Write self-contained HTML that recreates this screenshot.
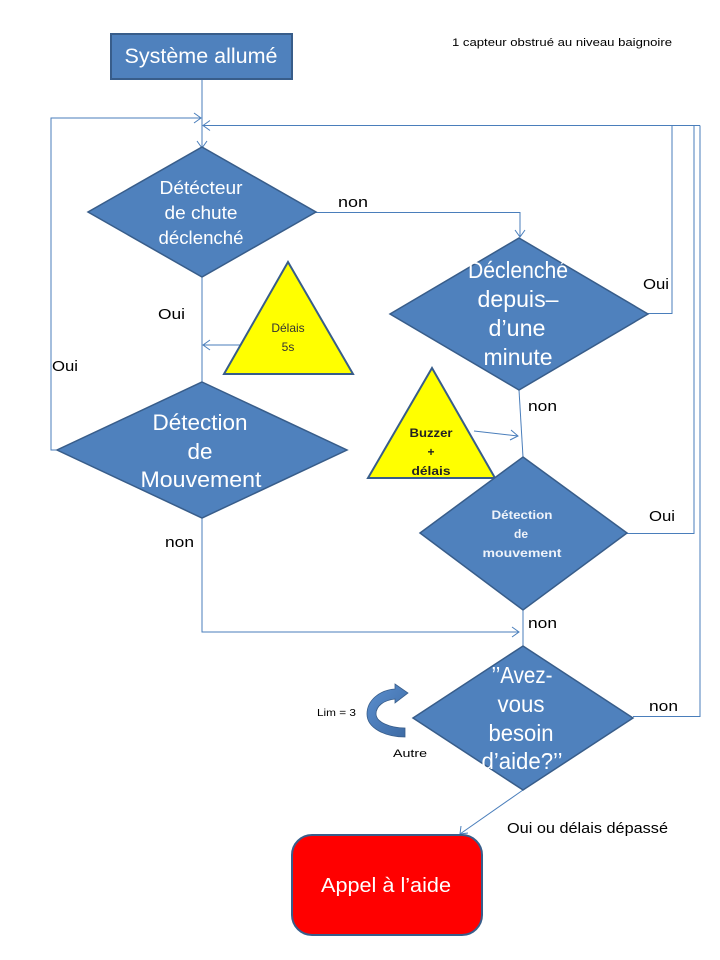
<!DOCTYPE html>
<html><head><meta charset="utf-8"><style>
html,body{margin:0;padding:0;background:#fff;}
svg{display:block;}
text{font-family:"Liberation Sans",sans-serif;}
</style></head><body>
<svg width="720" height="960" viewBox="0 0 720 960" xmlns="http://www.w3.org/2000/svg">
<defs>
<linearGradient id="cg" x1="0" y1="0" x2="1" y2="1">
<stop offset="0" stop-color="#5b8fcf"/><stop offset="1" stop-color="#3d6aa3"/>
</linearGradient>
</defs>
<g fill="none" stroke="#4a7ebb" stroke-width="1">
<!-- top start line -->
<line x1="202" y1="80" x2="202" y2="148"/>
<!-- left loop -->
<polyline points="57,450 51,450 51,118 201,118"/>
<polyline points="194,113 201,118 194,123"/>
<!-- right return top -->
<line x1="203" y1="125.5" x2="700" y2="125.5"/>
<polyline points="210,120.5 203,125.5 210,130.5"/>
<polyline points="197,141 202,148 207,141"/>
<!-- non from diamond 1 -->
<polyline points="316,212.5 520,212.5 520,237"/>
<polyline points="515,230 520,237 525,230"/>
<!-- Oui from diamond 2 -->
<polyline points="648,313.5 672,313.5 672,125.5"/>
<!-- Oui from diamond 3 -->
<polyline points="627,533.5 694,533.5 694,125.5"/>
<!-- non from diamond 4 -->
<polyline points="633,716.5 700,716.5 700,125.5"/>
<!-- left main vertical -->
<line x1="202" y1="277" x2="202" y2="382"/>
<line x1="240" y1="345" x2="203" y2="345"/>
<polyline points="210,340 203,345 210,350"/>
<!-- left non down and right -->
<polyline points="202,518 202,632 519,632"/>
<polyline points="512,627 519,632 512,637"/>
<!-- right column -->
<line x1="519" y1="390" x2="523" y2="457"/>
<line x1="474" y1="431" x2="518" y2="436"/>
<polyline points="511,430 518,436 510,440"/>
<line x1="523" y1="610" x2="523" y2="646"/>
<!-- to appel -->
<line x1="523" y1="790" x2="460" y2="834"/>
<polyline points="461,826 460,834 468,833"/>
</g>
<!-- start box -->
<rect x="111" y="34" width="181" height="45" fill="#4f81bd" stroke="#385d8a" stroke-width="2"/>
<text x="201" y="63" fill="#fff" font-size="21" text-anchor="middle" textLength="153" lengthAdjust="spacingAndGlyphs">Système allumé</text>
<text x="452" y="46" fill="#000" font-size="11" textLength="220" lengthAdjust="spacingAndGlyphs">1 capteur obstrué au niveau baignoire</text>
<!-- diamond 1 -->
<polygon points="202,147 316,212 202,277 88,212" fill="#4f81bd" stroke="#385d8a" stroke-width="1.5"/>
<g fill="#fff" font-size="18" text-anchor="middle">
<text x="201" y="194" textLength="83" lengthAdjust="spacingAndGlyphs">Détécteur</text>
<text x="201" y="219" textLength="73" lengthAdjust="spacingAndGlyphs">de chute</text>
<text x="201" y="244" textLength="85" lengthAdjust="spacingAndGlyphs">déclenché</text>
</g>
<!-- diamond 2 -->
<polygon points="519,238 648,314 519,390 390,314" fill="#4f81bd" stroke="#385d8a" stroke-width="1.5"/>
<g fill="#fff" font-size="23" text-anchor="middle">
<text x="518" y="278" textLength="100" lengthAdjust="spacingAndGlyphs">Déclenché</text>
<text x="518" y="307" textLength="81" lengthAdjust="spacingAndGlyphs">depuis–</text>
<text x="517" y="336" textLength="57" lengthAdjust="spacingAndGlyphs">d’une</text>
<text x="518" y="365" textLength="69" lengthAdjust="spacingAndGlyphs">minute</text>
</g>
<!-- triangle délais -->
<polygon points="288,262 353,374 224,374" fill="#ffff00" stroke="#385d8a" stroke-width="2"/>
<g fill="#333" font-size="12" text-anchor="middle">
<text x="288" y="332">Délais</text>
<text x="288" y="351">5s</text>
</g>
<!-- diamond B -->
<polygon points="202,382 347,450 202,518 57,450" fill="#4f81bd" stroke="#385d8a" stroke-width="1.5"/>
<g fill="#fff" font-size="22" text-anchor="middle">
<text x="200" y="430" textLength="95" lengthAdjust="spacingAndGlyphs">Détection</text>
<text x="200" y="459" textLength="25" lengthAdjust="spacingAndGlyphs">de</text>
<text x="201" y="487" textLength="121" lengthAdjust="spacingAndGlyphs">Mouvement</text>
</g>
<!-- buzzer triangle -->
<polygon points="432,368 495,478 368,478" fill="#ffff00" stroke="#385d8a" stroke-width="2"/>
<g fill="#222" font-size="12" font-weight="bold" text-anchor="middle">
<text x="431" y="437" textLength="43" lengthAdjust="spacingAndGlyphs">Buzzer</text>
<text x="431" y="456">+</text>
<text x="431" y="475" textLength="39" lengthAdjust="spacingAndGlyphs">délais</text>
</g>
<!-- diamond 3 -->
<polygon points="523,457 627,533 523,610 420,533" fill="#4f81bd" stroke="#385d8a" stroke-width="1.5"/>
<g fill="#eef3fa" font-size="12" text-anchor="middle" font-weight="bold">
<text x="522" y="519" textLength="61" lengthAdjust="spacingAndGlyphs">Détection</text>
<text x="521" y="538">de</text>
<text x="522" y="557" textLength="79" lengthAdjust="spacingAndGlyphs">mouvement</text>
</g>
<!-- diamond 4 -->
<polygon points="523,646 633,718 523,790 413,718" fill="#4f81bd" stroke="#385d8a" stroke-width="1.5"/>
<g fill="#fff" font-size="23" text-anchor="middle">
<text x="522" y="683" textLength="61" lengthAdjust="spacingAndGlyphs">’’Avez-</text>
<text x="521" y="712" textLength="47" lengthAdjust="spacingAndGlyphs">vous</text>
<text x="521" y="741" textLength="65" lengthAdjust="spacingAndGlyphs">besoin</text>
<text x="522" y="769" textLength="81" lengthAdjust="spacingAndGlyphs">d’aide?’’</text>
</g>
<!-- curved arrow -->
<path d="M405,737 C385,737 367,728 367,714 C367,700 380,690 395,689 L395,684 L408,693 L395,703 L395,699 C384,700 376,706 376,714 C376,722 390,728 405,728 Z" fill="url(#cg)" stroke="#385d8a" stroke-width="0.8"/>
<text x="317" y="716" font-size="10" fill="#000" textLength="39" lengthAdjust="spacingAndGlyphs">Lim = 3</text>
<text x="393" y="757" font-size="11" fill="#000" textLength="34" lengthAdjust="spacingAndGlyphs">Autre</text>
<!-- appel -->
<rect x="292" y="835" width="190" height="100" rx="20" ry="20" fill="#ff0000" stroke="#385d8a" stroke-width="2"/>
<text x="386" y="892" fill="#fff" font-size="20" text-anchor="middle" textLength="130" lengthAdjust="spacingAndGlyphs">Appel à l’aide</text>
<!-- labels -->
<g fill="#000" font-size="15">
<text x="338" y="207" textLength="30" lengthAdjust="spacingAndGlyphs">non</text>
<text x="643" y="289" textLength="26" lengthAdjust="spacingAndGlyphs">Oui</text>
<text x="158" y="319" textLength="27" lengthAdjust="spacingAndGlyphs">Oui</text>
<text x="52" y="371" textLength="26" lengthAdjust="spacingAndGlyphs">Oui</text>
<text x="528" y="411" textLength="29" lengthAdjust="spacingAndGlyphs">non</text>
<text x="649" y="521" textLength="26" lengthAdjust="spacingAndGlyphs">Oui</text>
<text x="165" y="547" textLength="29" lengthAdjust="spacingAndGlyphs">non</text>
<text x="528" y="628" textLength="29" lengthAdjust="spacingAndGlyphs">non</text>
<text x="649" y="711" textLength="29" lengthAdjust="spacingAndGlyphs">non</text>
<text x="507" y="833" textLength="161" lengthAdjust="spacingAndGlyphs">Oui ou délais dépassé</text>
</g>
</svg>
</body></html>
